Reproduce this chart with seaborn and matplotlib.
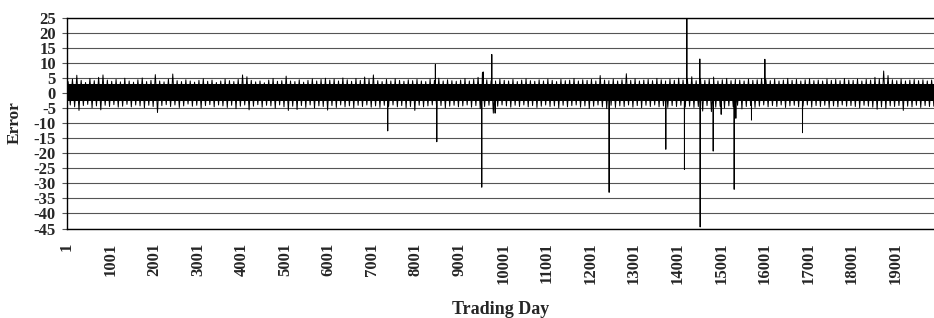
import numpy as np
import pandas as pd
import seaborn as sns
import matplotlib
matplotlib.use("Agg")
import matplotlib.pyplot as plt

# upper / lower reach of the daily error, one pair per 100 trading days
band_high = [3.8, 4.6, 5.9, 4.2, 3.5, 4.8, 4.1, 5.2, 6.0, 4.3, 3.9, 4.5, 3.7, 4.9, 4.0, 3.6, 4.4, 5.0, 3.8, 4.2,
             6.1, 4.0, 3.7, 4.6, 6.3, 4.1, 3.8, 4.4, 4.0, 3.6, 4.2, 4.7, 3.9, 4.3, 3.5, 4.0, 4.6, 4.1, 3.8, 4.5,
             6.0, 5.4, 4.2, 3.7, 4.0, 3.4, 4.3, 4.8, 3.9, 4.1, 5.6, 4.0, 3.8, 4.4, 3.6, 4.2, 4.7, 4.0, 4.5, 4.9,
             4.3, 4.6, 4.0, 5.0, 4.4, 3.9, 4.8, 4.2, 5.3, 4.6, 6.0, 4.1, 3.8, 4.5, 4.0, 4.7, 4.2, 3.9, 4.4, 4.1,
             4.5, 4.0, 3.8, 4.6, 4.2, 4.9, 4.0, 4.4, 4.1, 3.9, 4.3, 4.8, 4.0, 4.5, 5.2, 6.8, 4.4, 4.1, 4.0, 4.6,
             4.2, 4.0, 4.5, 3.8, 4.3, 4.7, 4.1, 3.9, 4.4, 4.0, 4.6, 4.2, 3.8, 4.5, 4.1, 4.3, 4.8, 4.0, 4.4, 4.2,
             4.5, 4.0, 5.8, 4.3, 4.1, 4.6, 4.0, 4.4, 6.4, 4.2, 4.7, 4.0, 4.3, 4.5, 4.1, 4.8, 4.4, 4.0, 4.6, 4.2,
             4.9, 4.3, 4.5, 5.4, 4.1, 4.7, 4.2, 4.6, 5.3, 4.0, 4.4, 4.8, 4.1, 4.5, 4.3, 4.0, 4.6, 4.2, 4.4, 4.8,
             4.4, 4.1, 4.6, 4.0, 4.3, 4.8, 4.2, 4.5, 4.0, 4.4, 4.7, 4.1, 4.3, 4.0, 4.6, 4.2, 4.5, 4.1, 4.8, 4.3,
             4.2, 4.6, 4.0, 4.5, 4.3, 5.2, 4.7, 7.3, 5.8, 4.4, 4.1, 4.6, 4.0, 4.3, 4.5, 4.1, 4.4, 4.0, 4.3]
band_low = [-4.0, -4.6, -5.8, -4.2, -3.8, -4.9, -4.3, -5.6, -4.1, -4.5, -3.9, -4.7, -4.4, -3.8, -4.6, -4.0, -4.3, -4.9, -4.1, -4.5,
            -6.5, -4.2, -3.9, -4.5, -4.0, -4.8, -4.3, -3.7, -4.4, -4.1, -5.0, -4.2, -3.9, -4.6, -4.0, -4.3, -4.8, -4.1, -5.2, -4.4,
            -4.0, -5.6, -4.4, -3.9, -4.7, -4.1, -4.3, -5.1, -4.0, -4.6, -5.8, -4.4, -5.5, -4.2, -4.8, -4.0, -5.0, -4.3, -4.5, -5.7,
            -4.2, -4.8, -4.0, -4.6, -4.3, -4.9, -4.1, -4.5, -4.0, -4.7, -4.3, -4.8, -4.1, -4.4, -4.0, -4.6, -4.2, -4.9, -4.5, -5.8,
            -4.1, -4.6, -4.3, -4.0, -4.8, -4.2, -5.0, -4.4, -4.1, -4.6, -4.3, -4.0, -4.7, -4.2, -5.2, -4.5, -4.1, -6.7, -4.4, -4.0,
            -4.3, -4.7, -4.1, -4.5, -4.0, -4.6, -4.2, -4.8, -4.4, -4.0, -4.5, -4.3, -4.9, -4.1, -4.6, -4.2, -4.0, -4.7, -4.3, -5.1,
            -4.4, -4.0, -4.6, -5.2, -4.1, -4.8, -4.3, -4.5, -4.0, -4.7, -4.2, -4.9, -4.1, -4.5, -4.0, -4.6, -4.3, -4.8, -4.2, -4.5,
            -4.1, -4.7, -4.4, -4.8, -4.5, -6.0, -4.2, -6.2, -4.7, -4.4, -5.0, -4.3, -4.6, -4.1, -5.3, -4.5, -4.2, -4.8, -4.4, -4.0,
            -4.6, -4.2, -4.5, -4.0, -4.8, -4.3, -4.1, -4.6, -4.4, -4.0, -4.7, -4.2, -4.5, -4.1, -4.8, -4.3, -4.6, -4.0, -4.4, -4.2,
            -4.5, -4.9, -4.1, -4.4, -4.7, -5.4, -4.6, -5.1, -4.3, -4.5, -4.2, -5.8, -4.4, -4.6, -4.1, -4.8, -4.2, -4.5, -4.4]

# dense core of the series
core_top = 3.0
core_bottom = -2.5
base_level = 0.3

# isolated large errors
spike_days = [7355, 8447, 8480, 9511, 9543, 9741, 9817, 12431, 13731, 14158,
              14213, 14511, 14518, 14817, 15000, 15298, 15337, 15695, 16002, 16865]
spike_vals = [-12.6, 9.5, -16.2, -31.3, 7.0, 12.8, -6.7, -33.0, -18.7, -25.4,
              24.6, 11.3, -44.5, -19.3, -7.1, -32.0, -8.4, -9.0, 11.2, -13.2]

last_day = 19880
x_ticks = list(range(1, 19002, 1000))
y_ticks = list(range(-45, 26, 5))

rows = []
for i in range(len(band_high)):
    start = 1 + 100 * i
    rows.append({'day': start, 'error': base_level})
    rows.append({'day': start + 25, 'error': band_high[i]})
    rows.append({'day': start + 50, 'error': base_level})
    rows.append({'day': start + 75, 'error': band_low[i]})
for d, v in zip(spike_days, spike_vals):
    rows.append({'day': d - 3, 'error': base_level})
    rows.append({'day': d, 'error': v})
    rows.append({'day': d + 3, 'error': base_level})
df = pd.DataFrame(rows).sort_values('day')

sns.set_style("white")
plt.rcParams['font.family'] = ['Liberation Serif', 'DejaVu Serif']
plt.rcParams['font.weight'] = 'bold'
plt.rcParams['axes.unicode_minus'] = False

fig = plt.figure(figsize=(9.34, 3.18), dpi=100)
ax = fig.add_axes([67 / 934, 1 - 228.5 / 318, 1 - 67 / 934, (228.5 - 17.7) / 318])

for y in y_ticks:
    ax.axhline(y, color='#555555', linewidth=0.8, zorder=0)

ax.fill_between([1, last_day], core_bottom, core_top, color='black', linewidth=0, zorder=2)
sns.lineplot(data=df, x='day', y='error', color='black', linewidth=0.7,
             estimator=None, sort=True, ax=ax, zorder=3)

ax.set_xlim(1, last_day)
ax.set_ylim(-45, 25)
ax.set_xticks(x_ticks)
ax.set_xticklabels([str(t) for t in x_ticks], rotation=90, fontsize=12, fontweight='bold')
ax.set_yticks(y_ticks)
ax.set_yticklabels([str(t) for t in y_ticks], fontsize=12, fontweight='bold')
ax.tick_params(axis='x', length=0, pad=10)
ax.tick_params(axis='y', length=3.5, width=0.8, color='#555555', pad=4.5, left=True)
ax.set_xlabel('')
ax.set_ylabel('')

for s in ['left', 'top', 'bottom']:
    ax.spines[s].set_color('black')
    ax.spines[s].set_linewidth(1.0)
ax.spines['right'].set_visible(False)

fig.text(15 / 934, 1 - 123 / 318, 'Error', rotation=90, ha='center', va='center',
         fontsize=12.5, fontweight='bold')
fig.text(501 / 934, 1 - 301 / 318, 'Trading Day', ha='center', va='top',
         fontsize=13, fontweight='bold')

fig.savefig('out.png', dpi=100)
